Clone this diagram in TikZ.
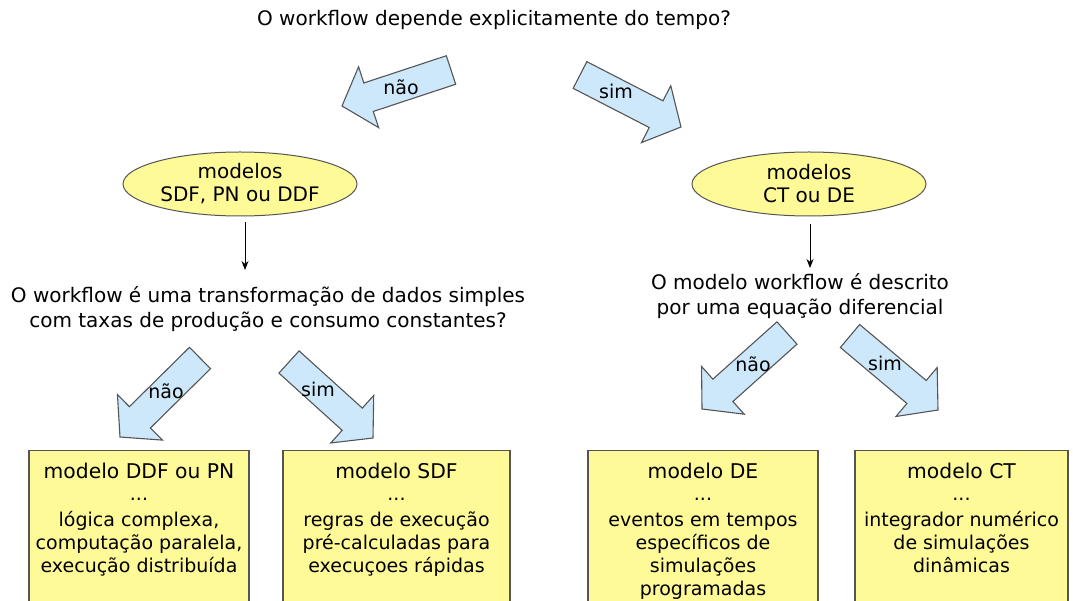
\documentclass[tikz,border=0pt]{standalone}
\usepackage{fontspec}
\setmainfont{DejaVu Sans}
\usetikzlibrary{calc,shapes.geometric,arrows.meta}
\definecolor{arrblue}{RGB}{204,232,250}
\definecolor{boxyellow}{RGB}{255,250,152}
\definecolor{edgegray}{RGB}{85,85,85}
\newcommand\blockarr[2]{%
  \draw[barrow] ($(#1)!15pt!90:(#2)$) -- ($($(#2)!28pt!(#1)$)!15pt!90:(#2)$) --
    ($($(#2)!28pt!(#1)$)!32pt!90:(#2)$) -- (#2) --
    ($($(#2)!28pt!(#1)$)!32pt!-90:(#2)$) -- ($($(#2)!28pt!(#1)$)!15pt!-90:(#2)$) --
    ($(#1)!15pt!-90:(#2)$) -- cycle;}
\begin{document}
\begin{tikzpicture}[x=1pt,y=-1pt,
  txt/.style={font=\fontsize{20}{25}\selectfont, align=center, inner sep=0pt},
  lbl/.style={font=\fontsize{19}{20}\selectfont, inner sep=0pt},
  barrow/.style={draw=edgegray, fill=arrblue, line width=1.1pt, line join=miter},
  ell/.style={ellipse, draw=edgegray, fill=boxyellow, line width=1pt, minimum width=234pt, minimum height=64pt, inner sep=0pt, align=center, font=\fontsize{20}{23}\selectfont},
  box/.style={rectangle, draw=edgegray, fill=boxyellow, line width=1.1pt, inner sep=0pt, anchor=north},
  conn/.style={-{Stealth[length=9pt,width=7pt]}, line width=0.9pt, black}]
\useasboundingbox (0,0) rectangle (1073,601);
\clip (0,0) rectangle (1073,601);
\fill[white] (0,0) rectangle (1073,601);
\newcommand\boxtext[3]{\parbox[t][160pt][t]{#1pt}{\centering\vspace*{13pt}{\fontsize{20.3}{22}\selectfont #2\par}\vspace*{-1pt}{\fontsize{19}{23}\selectfont ...\\[3pt] #3\par}}}

% title
\node[txt] (t) at (494,20) {O workflow depende explicitamente do tempo?};

% top block arrows
\coordinate (a1t) at (451,70); \coordinate (a1h) at (342,106);
\coordinate (a2t) at (580,75); \coordinate (a2h) at (681,127);
\blockarr{a1t}{a1h}
\blockarr{a2t}{a2h}
\node[lbl] (l1) at (401,87) {não};
\node[lbl] (l2) at (616,91) {sim};

% ellipses
\node[ell] (e1) at (240,184) {modelos\\SDF, PN ou DDF};
\node[ell] (e2) at (809,184) {modelos\\CT ou DE};

% questions
\node[txt] (q1) at (268,309) {O workflow é uma transformação de dados simples\\com taxas de produção e consumo constantes?};
\node[txt] (q2) at (800,296) {O modelo workflow é descrito\\por uma equação diferencial};

\coordinate (d1s) at (245,222); \coordinate (d1e) at (245,270);
\coordinate (d2s) at (810,224); \coordinate (d2e) at (810,268);
\draw[conn] (d1s) -- (d1e);
\draw[conn] (d2s) -- (d2e);

% lower block arrows
\coordinate (a3t) at (200,358); \coordinate (a3h) at (120,437);
\coordinate (a4t) at (289,362); \coordinate (a4h) at (373,438);
\coordinate (a5t) at (787,333); \coordinate (a5h) at (702,409);
\coordinate (a6t) at (850,336); \coordinate (a6h) at (938,410);
\blockarr{a3t}{a3h}
\blockarr{a4t}{a4h}
\blockarr{a5t}{a5h}
\blockarr{a6t}{a6h}
\node[lbl] (l3) at (166,391) {não};
\node[lbl] (l4) at (318,389) {sim};
\node[lbl] (l5) at (753,364) {não};
\node[lbl] (l6) at (885,363) {sim};

% boxes
\node[box] (b1) at (139,450) {\boxtext{220}{modelo DDF ou PN}{lógica complexa,\\computação paralela,\\execução distribuída}};
\node[box] (b2) at (396.5,450) {\boxtext{227}{modelo SDF}{regras de execução\\pré-calculadas para\\execuçoes rápidas}};
\node[box] (b3) at (703,450) {\boxtext{230}{modelo DE}{eventos em tempos\\específicos de\\simulações\\programadas}};
\node[box] (b4) at (961.5,450) {\boxtext{213}{modelo CT}{integrador numérico\\de simulações\\dinâmicas}};
\end{tikzpicture}
\end{document}
